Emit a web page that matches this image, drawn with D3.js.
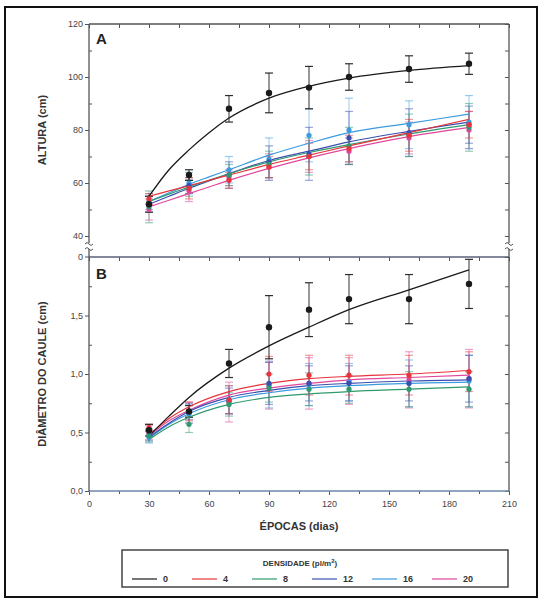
<!DOCTYPE html>
<html><head><meta charset="utf-8">
<script src="https://cdn.jsdelivr.net/npm/d3@7"></script>
<style>
html,body{margin:0;padding:0;background:#fff;}
svg text{font-family:"Liberation Sans",Arial,sans-serif;}
</style></head>
<body>
<svg id="c" width="542" height="602"></svg>
<script>
// ---------- DATA ----------
const epochs = [30, 50, 70, 90, 110, 130, 160, 190];
const densities = ["0", "4", "8", "12", "16", "20"];
const colors = ["#1a1a1a", "#e8343c", "#2f9a6e", "#3b4fb0", "#3a9be0", "#e0479a"];

// Panel A: ALTURA (cm) — means and error half-widths per density
const altMean0  = [52, 63, 88, 94, 96, 100, 103, 105];
const altErr0   = [3, 2, 5, 7.5, 8, 5, 5, 4];
const altMean4  = [54, 58, 61, 66, 70, 73, 78, 82];
const altErr4   = [2, 4, 3, 4, 5, 5, 6, 5];
const altMean8  = [51, 58, 63, 67, 70, 74, 78, 81];
const altErr8   = [6, 3, 4, 5, 7, 7, 8, 9];
const altMean12 = [52, 59, 63, 68, 71, 77, 79, 82];
const altErr12  = [3, 3, 5, 6, 10, 10, 9, 7];
const altMean16 = [53, 60, 65, 69, 78, 80, 82, 83];
const altErr16  = [3, 4, 5, 8, 10, 12, 9, 10];
const altMean20 = [50, 57, 62, 66, 70, 72, 77, 80];
const altErr20  = [4, 4, 3, 5, 6, 5, 6, 7];

// Panel A fitted curves
const curveXA   = [30, 40, 50, 60, 70, 90, 110, 130, 160, 190];
const altFit0   = [55, 65, 72.5, 79, 84.5, 92, 96.5, 99.6, 102.5, 104.3];
const altFit4   = [55, 57, 59, 61, 63, 67, 70.5, 74, 79, 84];
const altFit8   = [53, 55.8, 58.5, 61, 63.5, 68, 71.5, 74.5, 78.5, 82];
const altFit12  = [52, 55, 58, 60.8, 63.5, 68.5, 72, 75.5, 79.5, 83];
const altFit16  = [53, 56.3, 59.5, 62.3, 65, 70.5, 75, 79, 82.5, 86];
const altFit20  = [51, 53.5, 56, 58.5, 61, 65.5, 69.5, 73, 77.5, 81];

// Panel B: DIÂMETRO DO CAULE (cm)
const diaMean0  = [0.52, 0.68, 1.09, 1.40, 1.55, 1.64, 1.64, 1.77];
const diaErr0   = [0.05, 0.05, 0.12, 0.27, 0.23, 0.21, 0.21, 0.21];
const diaMean4  = [0.54, 0.68, 0.78, 1.00, 0.99, 0.99, 0.99, 1.02];
const diaErr4   = [0.03, 0.08, 0.12, 0.15, 0.17, 0.17, 0.17, 0.17];
const diaMean8  = [0.47, 0.57, 0.74, 0.88, 0.87, 0.87, 0.87, 0.87];
const diaErr8   = [0.05, 0.07, 0.10, 0.12, 0.14, 0.12, 0.15, 0.15];
const diaMean12 = [0.48, 0.68, 0.77, 0.92, 0.92, 0.92, 0.92, 0.96];
const diaErr12  = [0.05, 0.07, 0.11, 0.18, 0.15, 0.15, 0.15, 0.20];
const diaMean16 = [0.46, 0.66, 0.78, 0.91, 0.91, 0.93, 0.92, 0.94];
const diaErr16  = [0.05, 0.08, 0.12, 0.20, 0.18, 0.16, 0.20, 0.22];
const diaMean20 = [0.50, 0.67, 0.76, 0.90, 0.92, 0.94, 0.95, 0.96];
const diaErr20  = [0.06, 0.09, 0.17, 0.20, 0.22, 0.20, 0.24, 0.25];

const curveXB   = [30, 40, 50, 70, 90, 110, 130, 160, 190];
const diaFit0   = [0.47, 0.64, 0.80, 1.05, 1.24, 1.40, 1.55, 1.72, 1.89];
const diaFit4   = [0.48, 0.62, 0.72, 0.85, 0.92, 0.96, 0.98, 1.00, 1.03];
const diaFit8   = [0.44, 0.55, 0.63, 0.74, 0.80, 0.83, 0.85, 0.87, 0.89];
const diaFit12  = [0.46, 0.58, 0.68, 0.80, 0.86, 0.90, 0.92, 0.94, 0.95];
const diaFit16  = [0.45, 0.57, 0.66, 0.78, 0.84, 0.88, 0.90, 0.92, 0.93];
const diaFit20  = [0.47, 0.60, 0.69, 0.82, 0.88, 0.92, 0.95, 0.97, 0.99];

const xTicks = [0, 30, 60, 90, 120, 150, 180, 210];
const yTicksA = [40, 60, 80, 100, 120];
const yTicksB = [0, 0.5, 1.0, 1.5];

// ---------- BUILD ----------
const altMeans = [altMean0, altMean4, altMean8, altMean12, altMean16, altMean20];
const altErrs  = [altErr0, altErr4, altErr8, altErr12, altErr16, altErr20];
const altFits  = [altFit0, altFit4, altFit8, altFit12, altFit16, altFit20];
const diaMeans = [diaMean0, diaMean4, diaMean8, diaMean12, diaMean16, diaMean20];
const diaErrs  = [diaErr0, diaErr4, diaErr8, diaErr12, diaErr16, diaErr20];
const diaFits  = [diaFit0, diaFit4, diaFit8, diaFit12, diaFit16, diaFit20];

const svg = d3.select("#c");
const L = 89, R = 509, TA = 24, MID = 257, BB = 491;
const x = d3.scaleLinear().domain([0, 210]).range([L, R]);
const yA = d3.scaleLinear().domain([40, 120]).range([236, TA]);
const yB = d3.scaleLinear().domain([0, 2]).range([BB, MID]);
const axisCol = "#555";

// outer frame
svg.append("rect").attr("x", 5).attr("y", 7).attr("width", 532).attr("height", 590)
  .attr("fill", "none").attr("stroke", "#111").attr("stroke-width", 2);

function fmtComma(v){ return d3.format(".1f")(v).replace(".", ","); }

// axes
const minorX = d3.range(0, 211, 15);
function axisStyle(g){ g.select(".domain").remove(); g.selectAll("line").attr("stroke", axisCol); g.selectAll("text").attr("fill","#444").style("font-size","9px"); }

// Panel A axes
svg.append("g").attr("transform", `translate(0,${TA})`)
  .call(d3.axisBottom(x).tickValues(minorX).tickSize(4).tickFormat("")).call(axisStyle);
svg.append("g").attr("transform", `translate(${L},0)`)
  .call(d3.axisLeft(yA).tickValues(yTicksA).tickSize(4).tickPadding(2).tickFormat(d3.format("d"))).call(axisStyle);
svg.append("g").attr("transform", `translate(${L},0)`)
  .call(d3.axisRight(yA).tickValues([50,70,90,110]).tickSize(3).tickFormat("")).call(axisStyle);
svg.append("g").attr("transform", `translate(${R},0)`)
  .call(d3.axisLeft(yA).tickValues(d3.range(40,121,10)).tickSize(4).tickFormat("")).call(axisStyle);
// "0" of panel A at the break
svg.append("line").attr("x1", L-4).attr("x2", L).attr("y1", MID).attr("y2", MID).attr("stroke", axisCol);
svg.append("text").attr("x", L-6).attr("y", MID+3).attr("text-anchor","end").attr("fill","#444").style("font-size","9px").text("0");

// Panel B axes
svg.append("g").attr("transform", `translate(0,${MID})`)
  .call(d3.axisBottom(x).tickValues(minorX).tickSize(4).tickFormat("")).call(axisStyle);
svg.append("g").attr("transform", `translate(0,${BB})`)
  .call(d3.axisBottom(x).tickValues(xTicks).tickSize(4).tickPadding(6).tickFormat(d3.format("d"))).call(axisStyle);
svg.append("g").attr("transform", `translate(0,${BB})`)
  .call(d3.axisBottom(x).tickValues([15,45,75,105,135,165,195]).tickSize(3).tickFormat("")).call(axisStyle);
svg.append("g").attr("transform", `translate(${L},0)`)
  .call(d3.axisLeft(yB).tickValues(yTicksB).tickSize(4).tickPadding(2).tickFormat(fmtComma)).call(axisStyle);
svg.append("g").attr("transform", `translate(${L},0)`)
  .call(d3.axisRight(yB).tickValues([0.25,0.75,1.25,1.75]).tickSize(3).tickFormat("")).call(axisStyle);
svg.append("g").attr("transform", `translate(${R},0)`)
  .call(d3.axisLeft(yB).tickValues(d3.range(0,2.01,0.25)).tickSize(4).tickFormat("")).call(axisStyle);

// frames
svg.append("line").attr("x1", L).attr("x2", R).attr("y1", TA).attr("y2", TA).attr("stroke", axisCol).attr("stroke-width", 1.5);
svg.append("line").attr("x1", L).attr("x2", R).attr("y1", MID).attr("y2", MID).attr("stroke", "#5a6278").attr("stroke-width", 1.5);
svg.append("line").attr("x1", L).attr("x2", R).attr("y1", BB).attr("y2", BB).attr("stroke", "#6a88a8").attr("stroke-width", 1.6);
svg.append("line").attr("x1", L).attr("x2", L).attr("y1", TA).attr("y2", BB).attr("stroke", axisCol).attr("stroke-width", 1.3);
svg.append("line").attr("x1", R).attr("x2", R).attr("y1", TA).attr("y2", BB).attr("stroke", axisCol).attr("stroke-width", 1.3);

// break marks
[L, R].forEach(px => {
  svg.append("rect").attr("x", px-3).attr("y", 243).attr("width", 6).attr("height", 6).attr("fill", "#fff");
  [243, 248].forEach(py => {
    svg.append("path").attr("d", `M${px-4},${py+1} q2,-3 4,0 t4,0`).attr("fill","none").attr("stroke", axisCol).attr("stroke-width", 1);
  });
});

// panel labels
svg.append("text").attr("x", 96).attr("y", 44).style("font-size","15px").style("font-weight","bold").attr("fill","#222").text("A");
svg.append("text").attr("x", 96).attr("y", 279).style("font-size","15px").style("font-weight","bold").attr("fill","#222").text("B");

// axis titles
svg.append("text").attr("transform", `translate(46,${(TA+236)/2}) rotate(-90)`).attr("text-anchor","middle")
  .style("font-size","11px").style("font-weight","bold").attr("fill","#333").text("ALTURA (cm)");
svg.append("text").attr("transform", `translate(46,${(MID+BB)/2}) rotate(-90)`).attr("text-anchor","middle")
  .style("font-size","11px").style("font-weight","bold").attr("fill","#333").text("DIÂMETRO DO CAULE (cm)");
svg.append("text").attr("x", (L+R)/2).attr("y", 530).attr("text-anchor","middle")
  .style("font-size","11px").style("font-weight","bold").attr("fill","#333").text("ÉPOCAS (dias)");

// draw series
function drawPanel(y, means, errs, fits, cx) {
  const g = svg.append("g");
  const line = d3.line().x((d,i)=>x(cx[i])).y(d=>y(d)).curve(d3.curveMonotoneX);
  const order = [5,4,3,2,1,0];
  order.forEach(s => {
    const col = colors[s];
    const op = s === 0 ? 0.9 : 0.5;
    epochs.forEach((e,i) => {
      const m = means[s][i], er = errs[s][i];
      g.append("line").attr("x1", x(e)).attr("x2", x(e)).attr("y1", y(m-er)).attr("y2", y(m+er))
        .attr("stroke", col).attr("stroke-width", 1).attr("opacity", op);
      [m-er, m+er].forEach(v => g.append("line").attr("x1", x(e)-4).attr("x2", x(e)+4).attr("y1", y(v)).attr("y2", y(v))
        .attr("stroke", col).attr("stroke-width", 1.2).attr("opacity", op));
    });
  });
  order.forEach(s => {
    g.append("path").datum(fits[s]).attr("d", line).attr("fill","none").attr("stroke", colors[s]).attr("stroke-width", s===0?1.3:1.2);
  });
  order.forEach(s => {
    g.selectAll(null).data(means[s]).enter().append("circle")
      .attr("cx", (d,i)=>x(epochs[i])).attr("cy", d=>y(d)).attr("r", s===0?3.2:2.6)
      .attr("fill", colors[s]);
  });
}
drawPanel(yA, altMeans, altErrs, altFits, curveXA);
drawPanel(yB, diaMeans, diaErrs, diaFits, curveXB);

// legend
const lg = svg.append("g");
lg.append("rect").attr("x", 122).attr("y", 550).attr("width", 386).attr("height", 37)
  .attr("fill","#fff").attr("stroke","#444").attr("stroke-width",1.5);
const lt = lg.append("text").attr("x", 300).attr("y", 566).attr("text-anchor","middle")
  .style("font-size","8px").style("font-weight","bold").attr("fill","#333");
lt.append("tspan").text("DENSIDADE (pl/m");
lt.append("tspan").attr("dy", -3).style("font-size","6px").text("2");
lt.append("tspan").attr("dy", 3).text(")");
densities.forEach((d,i) => {
  const x0 = 132 + i*60;
  lg.append("line").attr("x1", x0).attr("x2", x0+25).attr("y1", 579).attr("y2", 579).attr("stroke", colors[i]).attr("stroke-width", 1.2);
  lg.append("text").attr("x", x0+31).attr("y", 582).style("font-size","9px").style("font-weight","bold").attr("fill","#333").text(d);
});
</script>
</body></html>
